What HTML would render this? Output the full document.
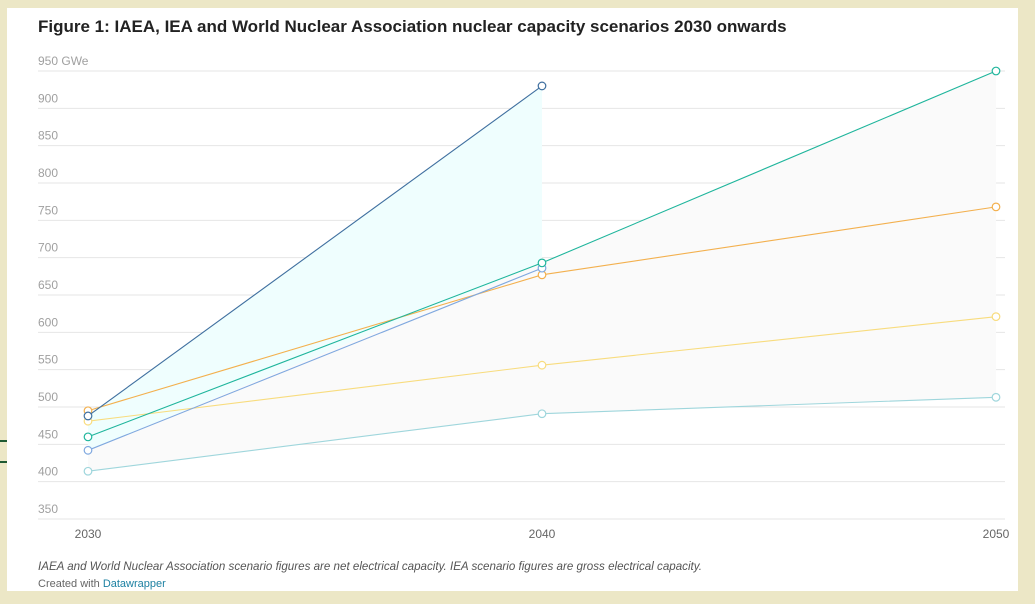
<!DOCTYPE html>
<html><head><meta charset="utf-8"><style>
body{margin:0;width:1035px;height:604px;background:#ece7c6;position:relative;overflow:hidden;font-family:"Liberation Sans",sans-serif}
#panel{position:absolute;left:7px;top:8px;width:1011px;height:583px;background:#fff}
#title{position:absolute;left:38px;top:17px;font-size:17px;font-weight:bold;color:#222}
.note{position:absolute;left:38px;font-size:11.6px;color:#555}
.gl{position:absolute;left:0;width:7px;height:2px;background:#1e5a32}
</style></head><body>
<div id="panel"></div>
<div class="gl" style="top:440px"></div>
<div class="gl" style="top:461px"></div>
<div id="title">Figure 1: IAEA, IEA and World Nuclear Association nuclear capacity scenarios 2030 onwards</div>
<svg id="chart" width="1035" height="604" style="position:absolute;left:0;top:0"></svg>
<div class="note" style="top:560px;font-style:italic">IAEA and World Nuclear Association scenario figures are net electrical capacity. IEA scenario figures are gross electrical capacity.</div>
<div class="note" style="top:578px;font-size:11px;color:#666">Created with <span style="color:#1d81a2">Datawrapper</span></div>
<script>
const years=[2030,2040,2050];
const yTicks=[950,900,850,800,750,700,650,600,550,500,450,400,350];
const sDarkBlue=[488,930,null];
const sTeal=[460,693,950];
const sOrange=[495,677,768];
const sYellow=[481,556,621];
const sBlue=[442,686,null];
const sLightTeal=[414,491,513];
const series=[
 {name:'light-teal',v:sLightTeal,c:'#9fd6dc'},
 {name:'yellow',v:sYellow,c:'#f8dc7e'},
 {name:'orange',v:sOrange,c:'#f3b04e'},
 {name:'blue',v:sBlue,c:'#7fa8df'},
 {name:'teal',v:sTeal,c:'#1fb59c'},
 {name:'dark-blue',v:sDarkBlue,c:'#3f6f9f'}];
const NS='http://www.w3.org/2000/svg';
const svg=document.getElementById('chart');
const X=y=>88+(y-2030)*(996-88)/20;
const Y=v=>71+(950-v)*448/600;
function mk(t,a){const e=document.createElementNS(NS,t);for(const k in a)e.setAttribute(k,a[k]);svg.appendChild(e);return e;}
yTicks.forEach(t=>{
 const l=mk('line',{x1:38,x2:1005,y1:Y(t),y2:Y(t),stroke:'#e6e6e6','stroke-width':1});
 
 
 const tx=mk('text',{x:38,y:Y(t)-6,'font-size':12,fill:'#a0a0a0','font-family':'Liberation Sans'});
 tx.textContent=t===950?'950 GWe':String(t);
 
 
});
years.forEach(y=>{
 const tx=mk('text',{x:X(y),y:538,'font-size':12,fill:'#666','text-anchor':'middle','font-family':'Liberation Sans'});
 tx.textContent=y;
 
 
});
const maxs=years.map((y,i)=>Math.max(...series.map(s=>s.v[i]).filter(v=>v!=null&&!(i===1&&v===sDarkBlue[1]))));
const mins=years.map((y,i)=>Math.min(...series.map(s=>s.v[i]).filter(v=>v!=null)));
let p=years.map((y,i)=>X(y)+','+Y(maxs[i])).concat(years.slice().reverse().map((y,j)=>{const i=years.length-1-j;return X(y)+','+Y(mins[i]);}));
const g=mk('polygon',{points:p.join(' '),fill:'#fafafa'});


const cp=[X(years[0])+','+Y(sDarkBlue[0]),X(years[1])+','+Y(sDarkBlue[1]),X(years[1])+','+Y(sTeal[1]),X(years[0])+','+Y(sBlue[0])];
const ca=mk('polygon',{points:cp.join(' '),fill:'#effefe'});


series.forEach(s=>{
 const pts=[];s.v.forEach((v,i)=>{if(v!=null)pts.push(X(years[i])+','+Y(v));});
 const l=mk('polyline',{points:pts.join(' '),fill:'none',stroke:s.c,'stroke-width':1.1});
 
 
 s.v.forEach((v,i)=>{if(v==null)return;
  const c=mk('circle',{cx:X(years[i]),cy:Y(v),r:3.8,fill:'#fff',stroke:s.c,'stroke-width':1.2});
  
  
 });
});
</script>
</body></html>
